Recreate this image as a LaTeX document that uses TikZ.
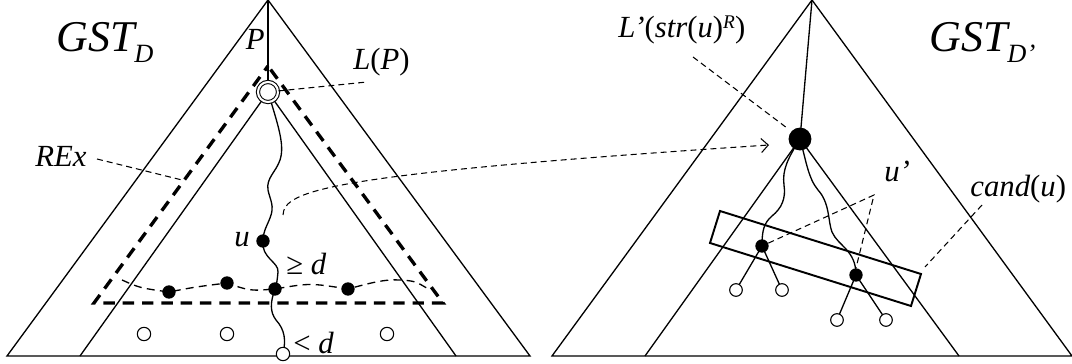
\documentclass[tikz,border=0pt]{standalone}
\usepackage{fontspec}
\setmainfont{Liberation Serif}
\usepackage{tikz}
\usetikzlibrary{arrows.meta}

\newcommand{\lowsub}[1]{\raisebox{-6pt}{\fontsize{15}{17}\selectfont #1}}
\newcommand{\highsup}[1]{\raisebox{5.5pt}{\fontsize{11}{12}\selectfont #1}}

\begin{document}
\begin{tikzpicture}[x=0.02cm, y=-0.02cm, >={Straight Barb[length=4pt,width=8pt]},
    tree/.style={line width=0.75pt},
    rex/.style={line width=1.9pt, dash pattern=on 6.5pt off 4.5pt, dash phase=8.5pt},
    leader/.style={line width=0.6pt, dash pattern=on 3.4pt off 2.3pt},
    level/.style={line width=0.75pt, dash pattern=on 4.5pt off 3pt},
    bdot/.style={circle, fill=black, inner sep=0pt, minimum size=7.6pt},
    bigdot/.style={circle, fill=black, inner sep=0pt, minimum size=13pt},
    wdot/.style={circle, draw, fill=white, line width=0.6pt, inner sep=0pt, minimum size=7.6pt},
    ring/.style={circle, draw, fill=white, double, double distance=1.2pt, line width=0.6pt, inner sep=0pt, minimum size=11.4pt},
    lbl/.style={font=\fontsize{17.5}{20}\selectfont\itshape, inner sep=0pt},
    biglbl/.style={font=\fontsize{25}{28}\selectfont\itshape, inner sep=0pt}]
    \useasboundingbox (0,0) rectangle (1072,364);

    % left tree
    \coordinate (ltop) at (268,0);
    \coordinate (lp) at (268,92);
    \coordinate (u) at (263,241);
    \coordinate (m1) at (169,292);
    \coordinate (m2) at (227,283);
    \coordinate (m3) at (275,289);
    \coordinate (m4) at (348,289);
    \coordinate (leaf) at (283,354);
    \draw[tree] (7,356) -- (ltop) -- (530,356) -- cycle;
    \draw[tree] (80,356) -- (lp) -- (456,356);
    \draw[tree] (ltop) -- (lp);
    \draw[rex] (268,66) -- (443,303) -- (94,303) -- cycle;
    \draw[level] (122,280) .. controls (140,288) .. (m1) .. controls (195,287) .. (m2)
        .. controls (250,291) .. (m3) .. controls (310,283) .. (m4)
        .. controls (370,283) and (385,279) .. (400,280) .. controls (415,281) .. (430,290);
    \draw[tree] (lp) .. controls (278,125) and (285,145) .. (280,160)
        .. controls (276,172) and (266,178) .. (268,190)
        .. controls (270,200) and (275,206) .. (270,218)
        .. controls (266,228) and (263,232) .. (u);
    \draw[tree] (u) .. controls (261,258) and (279,262) .. (278,272) .. controls (277,282) .. (m3);
    \draw[tree] (m3) .. controls (270,303) and (270,312) .. (276,320)
        .. controls (285,330) and (286,340) .. (leaf);
    \node[ring] (lpnode) at (lp) {};
    \foreach \d in {u,m1,m2,m3,m4}
        \node[bdot] at (\d) {};
    \foreach \x in {144,227,387}
        \node[wdot] at (\x,334) {};
    \node[wdot] (leafnode) at (leaf) {};

    \node[biglbl, anchor=base west] (gstd) at (56,52) {GST\lowsub{D}};
    \node[lbl, anchor=base east] (plbl) at (265,50) {P};
    \node[lbl, anchor=base west] (lplbl) at (353,70) {L\textup{(}P\textup{)}};
    \node[lbl, anchor=base west] (rexlbl) at (35,167) {REx};
    \node[lbl, anchor=base west] (ulbl) at (234,247) {u};
    \node[lbl, anchor=base west] (gelbl) at (286,275) {\textup{≥} d};
    \node[lbl, anchor=base west] (ltlbl) at (293,354) {\textup{<} d};
    \coordinate (lpend) at (367,82);
    \coordinate (rexfrom) at (97,159);
    \coordinate (rexend) at (182,180);
    \draw[leader] (lpnode) -- (lpend);
    \draw[leader] (rexfrom) -- (rexend);

    % right tree
    \coordinate (rtop) at (812,0);
    \coordinate (rt) at (800,139);
    \coordinate (v1) at (762,246);
    \coordinate (v2) at (856,275);
    \draw[tree] (552,356) -- (rtop) -- (1072,356) -- cycle;
    \draw[tree] (645,356) -- (rt) -- (959,356);
    \draw[tree] (rtop) -- (rt);
    \draw[tree] (rt) .. controls (788,158) and (782,170) .. (784,185)
        .. controls (786,198) and (782,208) .. (772,216)
        .. controls (764,223) and (762,230) .. (v1);
    \draw[tree] (rt) .. controls (806,160) and (808,178) .. (818,190)
        .. controls (830,203) and (828,222) .. (832,232)
        .. controls (838,246) and (856,250) .. (v2);
    \draw[tree] (v1) -- (736,290) (v1) -- (782,290);
    \draw[tree] (v2) -- (837,320) (v2) -- (886,320);
    \draw[line width=1.1pt] (720,211) -- (921,274) -- (911,306) -- (710,243) -- cycle;
    \node[bigdot] (rtnode) at (rt) {};
    \node[bdot] (v1node) at (v1) {};
    \node[bdot] (v2node) at (v2) {};
    \foreach \x/\y in {736/290, 782/290, 837/320, 886/320}
        \node[wdot, minimum size=7.2pt] at (\x,\y) {};

    \node[biglbl, anchor=base west] (gstdp) at (929,52) {GST\lowsub{D’}};
    \node[lbl, anchor=base west] (strlbl) at (618,38)
        {L’\textup{(}str\textup{(}u\textup{)}\highsup{R}\textup{)}};
    \node[lbl, anchor=base west] (uplbl) at (884,182) {u’};
    \node[lbl, anchor=base west] (candlbl) at (970,197) {cand\textup{(}u\textup{)}};
    \coordinate (strfrom) at (693,57);
    \coordinate (strend) at (787,128);
    \coordinate (upfrom) at (874,195);
    \coordinate (candfrom) at (982,205);
    \coordinate (candend) at (925,267);
    \draw[leader] (strfrom) -- (strend);
    \draw[leader] (v1node) -- (upfrom) -- (v2node.north);
    \draw[leader] (candfrom) -- (candend);

    % from u to its reversed string
    \coordinate (ufrom) at (283,215);
    \coordinate (rto) at (769,145);
    \draw[leader, ->] (ufrom) .. controls (284,190) and (330,174) .. (rto);
\end{tikzpicture}
\end{document}
